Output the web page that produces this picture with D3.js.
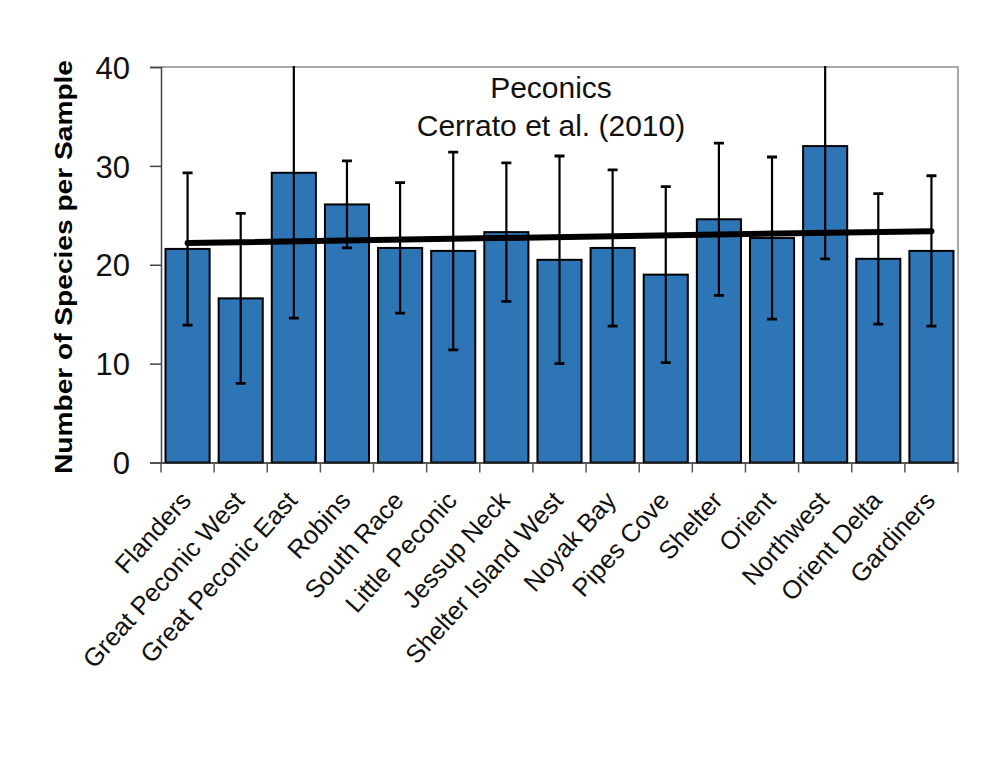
<!DOCTYPE html>
<html>
<head>
<meta charset="utf-8">
<script src="https://cdn.jsdelivr.net/npm/d3@7"></script>
<style>
  html, body { margin: 0; padding: 0; background: #fff; }
  svg { display: block; font-family: "Liberation Sans", Arial, sans-serif; }
</style>
</head>
<body>
<svg id="chart" width="982" height="759"></svg>
<script>
// Sampling stations in the Peconic estuary
const sites = [
  "Flanders", "Great Peconic West", "Great Peconic East", "Robins", "South Race",
  "Little Peconic", "Jessup Neck", "Shelter Island West", "Noyak Bay", "Pipes Cove",
  "Shelter", "Orient", "Northwest", "Orient Delta", "Gardiners"
];
// Mean number of species per sample
const meanSpecies = [21.6, 16.6, 29.3, 26.1, 21.7, 21.4, 23.3, 20.5, 21.7, 19.0, 24.6, 22.7, 32.0, 20.6, 21.4];
// Error bar half-widths (±)
const errSpecies = [7.7, 8.6, 14.7, 4.4, 6.6, 10.0, 7.0, 10.5, 7.9, 8.9, 7.7, 8.2, 11.4, 6.6, 7.6];
// Linear trend, value at the first and at the last station
const trendEnds = [22.2, 23.4];
const yTicks = [0, 10, 20, 30, 40];
const titleLines = ["Peconics", "Cerrato et al. (2010)"];
const yTitle = "Number of Species per Sample";

const svg = d3.select("#chart");
const m = { left: 161, right: 958, top: 67, bottom: 462.5 };

const x = d3.scaleBand().domain(sites).range([m.left, m.right]).paddingInner(0.17).paddingOuter(0.085);
const y = d3.scaleLinear().domain([0, 40]).range([m.bottom, m.top]);
const cx = d => x(d) + x.bandwidth() / 2;

svg.append("defs").append("clipPath").attr("id", "plot-clip")
  .append("rect").attr("x", m.left).attr("y", m.top - 1)
  .attr("width", m.right - m.left).attr("height", m.bottom - m.top + 1);

// Plot frame (top and right)
svg.append("path")
  .attr("d", `M${m.left},${m.top}H${m.right}V${m.bottom}`)
  .attr("fill", "none").attr("stroke", "#8c8c8c").attr("stroke-width", 1.5);

// Bars
svg.append("g").selectAll("rect").data(sites).join("rect")
  .attr("x", d => x(d))
  .attr("y", (d, i) => y(meanSpecies[i]))
  .attr("width", x.bandwidth())
  .attr("height", (d, i) => y(0) - y(meanSpecies[i]))
  .attr("fill", "#2E75B6")
  .attr("stroke", "#000").attr("stroke-width", 2);

// Error bars
const eb = svg.append("g").attr("clip-path", "url(#plot-clip)");
sites.forEach((s, i) => {
  const hi = meanSpecies[i] + errSpecies[i], lo = meanSpecies[i] - errSpecies[i];
  const g = eb.append("g").attr("stroke", "#000");
  g.append("line").attr("x1", cx(s)).attr("x2", cx(s))
    .attr("y1", y(hi)).attr("y2", y(lo)).attr("stroke-width", 2.2);
  [hi, lo].forEach(v => {
    if (v <= 40) {
      g.append("line").attr("x1", cx(s) - 5).attr("x2", cx(s) + 5)
        .attr("y1", y(v)).attr("y2", y(v)).attr("stroke-width", 2.8);
    }
  });
});

// Trend line
svg.append("line")
  .attr("x1", cx(sites[0])).attr("x2", cx(sites[sites.length - 1]))
  .attr("y1", y(trendEnds[0])).attr("y2", y(trendEnds[1]))
  .attr("stroke", "#000").attr("stroke-width", 6).attr("stroke-linecap", "round");

// Y axis
const yAxis = svg.append("g").attr("transform", `translate(${m.left},0)`)
  .call(d3.axisLeft(y).tickValues(yTicks).tickSize(11).tickPadding(20));
yAxis.select(".domain").attr("stroke", "#444").attr("stroke-width", 1.5);
yAxis.selectAll(".tick line").attr("stroke", "#444").attr("stroke-width", 1.5);
yAxis.selectAll(".tick text").attr("font-size", 31).attr("fill", "#111")
  .attr("font-family", "Liberation Sans, Arial, sans-serif").attr("dy", "0.36em");

// X axis
const xAxis = svg.append("g").attr("transform", `translate(0,${m.bottom})`)
  .call(d3.axisBottom(x).tickSize(0).tickFormat(""));
xAxis.select(".domain").attr("stroke", "#222").attr("stroke-width", 1.5);
const bounds = [m.left].concat(sites.map(s => x(s) + x.bandwidth() + x.step() * x.paddingInner() / 2));
bounds[bounds.length - 1] = m.right;
xAxis.selectAll(".bound").data(bounds).join("line").attr("class", "bound")
  .attr("x1", d => d).attr("x2", d => d).attr("y1", 0).attr("y2", 10)
  .attr("stroke", "#555").attr("stroke-width", 1.5);

// Rotated category labels
svg.append("g").selectAll("text").data(sites).join("text")
  .attr("transform", d => `translate(${cx(d) + 5},${m.bottom + 39}) rotate(-48)`)
  .attr("text-anchor", "end")
  .attr("font-size", 25.5).attr("fill", "#111")
  .text(d => d);

// Y axis title
svg.append("text")
  .attr("transform", `translate(72,${(60 + 474) / 2}) rotate(-90)`)
  .attr("text-anchor", "middle")
  .attr("font-size", 24).attr("font-weight", "bold").attr("fill", "#000")
  .attr("textLength", 414).attr("lengthAdjust", "spacingAndGlyphs")
  .text(yTitle);

// Title
svg.append("g").selectAll("text").data(titleLines).join("text")
  .attr("x", 551).attr("y", (d, i) => 98 + i * 38)
  .attr("text-anchor", "middle").attr("font-size", 30).attr("fill", "#111")
  .text(d => d);
</script>
</body>
</html>
